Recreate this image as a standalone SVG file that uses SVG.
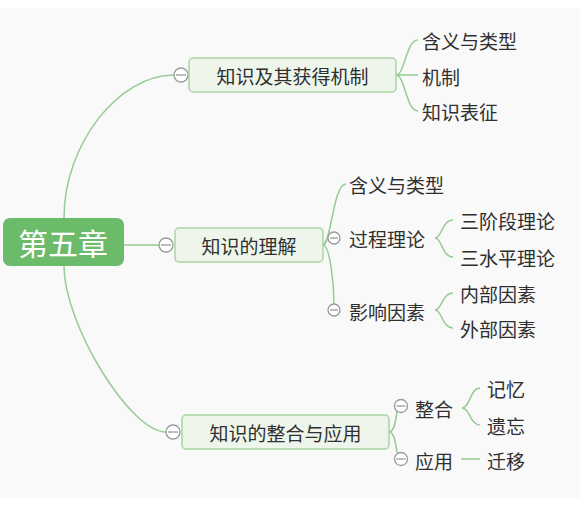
<svg xmlns="http://www.w3.org/2000/svg" width="580" height="516" viewBox="0 0 580 516">
<style>
text{font-family:"Noto Sans CJK SC","Microsoft YaHei",sans-serif;dominant-baseline:central;fill:#2f2f2f;font-size:19px}
.root{fill:#6cbb6a}
.roottext{fill:#ffffff;font-size:30px;text-anchor:middle}
.box{fill:#eef6ec;stroke:#a9d4a3;stroke-width:1.5}
.mid{text-anchor:middle}
.ln{fill:none;stroke:#96cc94;stroke-width:1.5}
.col circle{fill:#ffffff;stroke:#9a9a9a;stroke-width:1.3}
.col line{stroke:#9a9a9a;stroke-width:1.3}
</style>
<rect x="0" y="0" width="580" height="516" fill="#ffffff"/>
<rect x="0" y="8" width="580" height="490" fill="#f9f9f9"/>
<g id="connectors">
<path class="ln" d="M64,218 C64,145 118,75 174,75"/>
<path class="ln" d="M124,245 L159,245"/>
<path class="ln" d="M64,266 C64,324 130,432 166,432"/>
<path class="ln" d="M396,75 C405,75 406,40 418,40"/>
<path class="ln" d="M396,75 L418,75"/>
<path class="ln" d="M396,75 C405,75 406,111 418,111"/>
<path class="ln" d="M323,245 C331,245 333,184 346,184"/>
<path class="ln" d="M323,245 C326,245 326,238 328,238"/>
<path class="ln" d="M323,245 C330,245 334,285 334,304"/>
<path class="ln" d="M435,238 C442,238 442,220 453,220"/>
<path class="ln" d="M435,238 C442,238 442,257 453,257"/>
<path class="ln" d="M435,310 C442,310 442,293 453,293"/>
<path class="ln" d="M435,310 C442,310 442,328 453,328"/>
<path class="ln" d="M389,432 C395,432 396,418 397,411"/>
<path class="ln" d="M389,432 C395,432 396,446 397,453"/>
<path class="ln" d="M462,408 C470,408 470,388 480,388"/>
<path class="ln" d="M462,408 C470,408 470,425 480,425"/>
<path class="ln" d="M461,459 L480,459"/>
</g>
<g id="root">
<rect class="root" x="3" y="218" width="121" height="48" rx="7"/>
<text class="roottext" x="63" y="242">第五章</text>
</g>
<g id="topic1">
<g class="col"><circle cx="181" cy="75" r="7"/><line x1="176" y1="75" x2="186" y2="75"/></g>
<rect class="box" x="189" y="58" width="207" height="34" rx="4"/>
<text class="mid" x="292.5" y="75">知识及其获得机制</text>
</g>
<g id="t1-1"><text x="422" y="40">含义与类型</text></g>
<g id="t1-2"><text x="422" y="76">机制</text></g>
<g id="t1-3"><text x="422" y="111">知识表征</text></g>
<g id="topic2">
<g class="col"><circle cx="166" cy="245" r="7"/><line x1="161" y1="245" x2="171" y2="245"/></g>
<rect class="box" x="175" y="228" width="148" height="34" rx="4"/>
<text class="mid" x="249" y="245">知识的理解</text>
</g>
<g id="t2-1"><text x="349" y="184">含义与类型</text></g>
<g id="t2-2">
<g class="col"><circle cx="334" cy="238" r="6"/><line x1="330" y1="238" x2="338" y2="238"/></g>
<text x="349" y="238">过程理论</text>
</g>
<g id="t2-2-1"><text x="460" y="220">三阶段理论</text></g>
<g id="t2-2-2"><text x="460" y="257">三水平理论</text></g>
<g id="t2-3">
<g class="col"><circle cx="334" cy="310" r="6"/><line x1="330" y1="310" x2="338" y2="310"/></g>
<text x="349" y="311">影响因素</text>
</g>
<g id="t2-3-1"><text x="460" y="293">内部因素</text></g>
<g id="t2-3-2"><text x="460" y="328">外部因素</text></g>
<g id="topic3">
<g class="col"><circle cx="173" cy="432" r="7"/><line x1="168" y1="432" x2="178" y2="432"/></g>
<rect class="box" x="182" y="415" width="207" height="34" rx="4"/>
<text class="mid" x="285.5" y="432">知识的整合与应用</text>
</g>
<g id="t3-1">
<g class="col"><circle cx="401" cy="406" r="6.5"/><line x1="396.5" y1="406" x2="405.5" y2="406"/></g>
<text x="415" y="408">整合</text>
</g>
<g id="t3-1-1"><text x="487" y="388">记忆</text></g>
<g id="t3-1-2"><text x="487" y="425">遗忘</text></g>
<g id="t3-2">
<g class="col"><circle cx="401" cy="459" r="6.5"/><line x1="396.5" y1="459" x2="405.5" y2="459"/></g>
<text x="415" y="460">应用</text>
</g>
<g id="t3-2-1"><text x="487" y="460">迁移</text></g>
</svg>
